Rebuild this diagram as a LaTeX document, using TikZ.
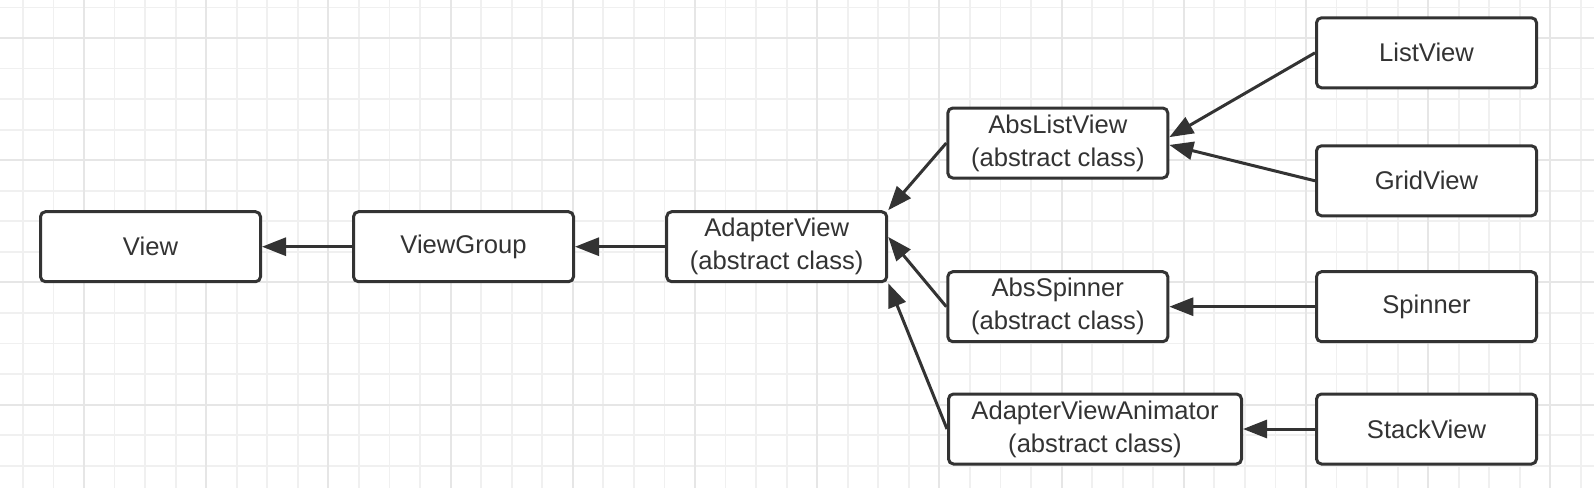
\documentclass[tikz,border=0pt]{standalone}
\usepackage{fontspec}
\setmainfont{Liberation Sans}
\usetikzlibrary{arrows.meta}
\definecolor{ink}{HTML}{333333}
\definecolor{gridminor}{HTML}{F0F0F0}
\definecolor{gridmajor}{HTML}{E6E6E6}

\begin{document}
\begin{tikzpicture}[x=0.5pt,y=-0.5pt,
   cls/.style={draw=ink,line width=1.5pt,rounded corners=2.5pt,fill=white,
      minimum width=110pt,minimum height=35pt,align=center,text=ink,
      font=\fontsize{12.8pt}{16.5pt}\selectfont,inner sep=0pt},
   widecls/.style={cls,minimum width=146.5pt},
   inh/.style={draw=ink,line width=1.5pt,-{Triangle[length=12pt,width=9pt]}}]
   % background grid
   \fill[white] (0,0) rectangle (1594,488);
   \useasboundingbox (0,0) rectangle (1594,488);
   \foreach \i in {-2,...,49}
      \draw[gridminor,line width=0.9pt] ({84+\i*30.55},0) -- ({84+\i*30.55},488);
   \foreach \j in {-1,...,14}
      \draw[gridminor,line width=0.9pt] (0,{38+\j*30.55}) -- (1594,{38+\j*30.55});
   \foreach \i in {0,...,12}
      \draw[gridmajor,line width=1pt] ({84+\i*122.2},0) -- ({84+\i*122.2},488);
   \foreach \j in {0,...,3}
      \draw[gridmajor,line width=1pt] (0,{38+\j*122.2}) -- (1594,{38+\j*122.2});
   % classes
   \node[cls] (view)       at (150.5,246.7) {View};
   \node[cls] (viewgroup)  at (463.5,246.7) {ViewGroup};
   \node[cls] (adapter)    at (776.7,246.7) {AdapterView\\(abstract class)};
   \node[cls] (abslist)    at (1057.8,143)  {AbsListView\\(abstract class)};
   \node[cls] (absspinner) at (1057.8,306.7) {AbsSpinner\\(abstract class)};
   \node[widecls] (ava)    at (1095,429)    {AdapterViewAnimator\\(abstract class)};
   \node[cls] (listview)   at (1426.5,52.8) {ListView};
   \node[cls] (gridview)   at (1426.5,180.8) {GridView};
   \node[cls] (spinner)    at (1426.5,306.7) {Spinner};
   \node[cls] (stackview)  at (1426.5,429)  {StackView};
   % inheritance
   \draw[inh] (viewgroup) -- (view);
   \draw[inh] (adapter) -- (viewgroup);
   \draw[inh] (abslist.west) -- (adapter.north east);
   \draw[inh] (absspinner.west) -- (adapter.5);
   \draw[inh] (ava.west) -- (adapter.south east);
   \draw[inh] (listview.west) -- (abslist.3);
   \draw[inh] (gridview.west) -- (abslist.-1);
   \draw[inh] (spinner) -- (absspinner);
   \draw[inh] (stackview) -- (ava);
\end{tikzpicture}
\end{document}
